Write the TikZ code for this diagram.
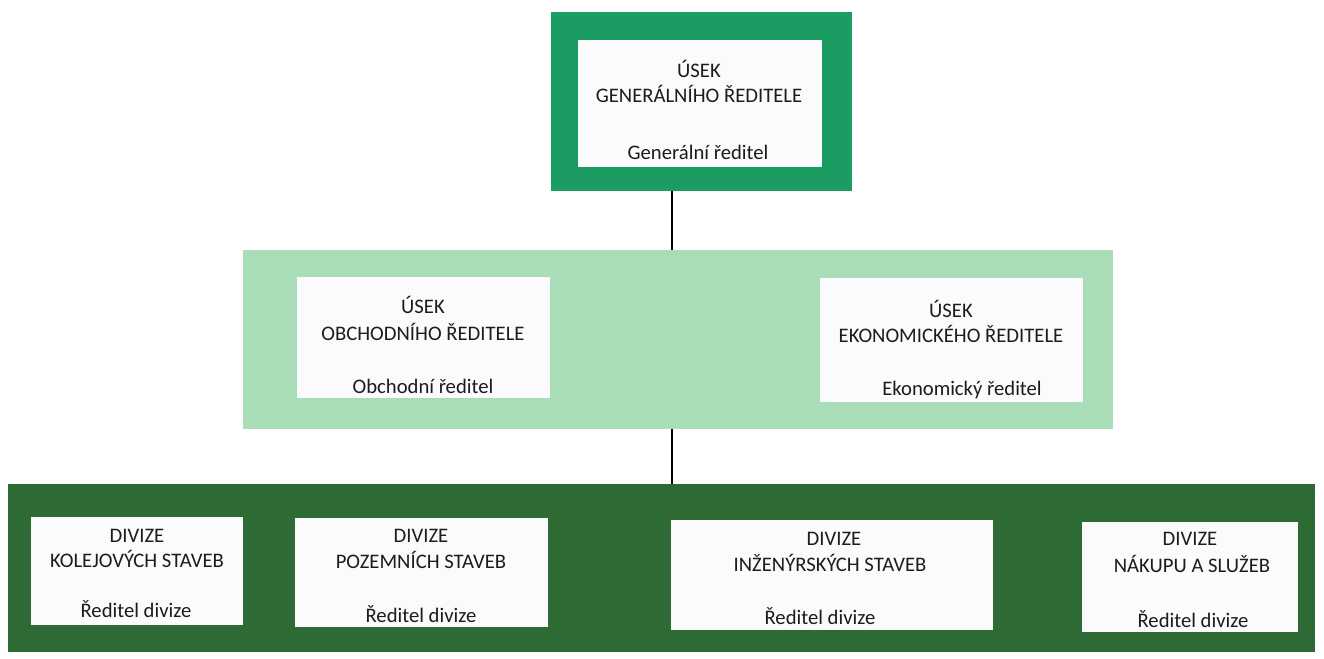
\documentclass[tikz,border=0pt]{standalone}
\usepackage{fontspec}
\setmainfont{Carlito}
\definecolor{topgreen}{RGB}{26,156,98}
\definecolor{midgreen}{RGB}{169,221,183}
\definecolor{botgreen}{RGB}{46,106,52}
\definecolor{boxwhite}{RGB}{251,251,253}
\definecolor{txtcol}{RGB}{28,28,30}
\def\u{0.75pt}
\tikzset{
  band/.style={draw=none, inner sep=0pt, outer sep=0pt},
  wbox/.style={draw=none, fill=boxwhite, inner sep=0pt, outer sep=0pt},
  txt/.style={anchor=base, inner sep=0pt, text=txtcol, font=\fontsize{15.5}{18}\selectfont},
  conn/.style={draw=black, line width=1.3pt}
}
\begin{document}
\begin{tikzpicture}[x=0.75pt, y=-0.75pt]
\useasboundingbox (0,0) rectangle (1324,659);
\fill[white] (0,0) rectangle (1324,659);
% top
\node[band, fill=topgreen, minimum width=301*\u, minimum height=179*\u] (topband) at (701.5,101.5) {};
\node[wbox, minimum width=244*\u, minimum height=127*\u] (gen) at (700,103.5) {};
\node[txt] (gen1) at (699,78) {ÚSEK};
\node[txt] (gen2) at (699,103) {GENERÁLNÍHO ŘEDITELE};
\node[txt] (gen3) at (698,160) {Generální ředitel};
% middle
\node[band, fill=midgreen, minimum width=870*\u, minimum height=179*\u] (midband) at (678,339.5) {};
\node[wbox, minimum width=253*\u, minimum height=121*\u] (obch) at (423.5,337.5) {};
\node[txt] (obch1) at (423,314) {ÚSEK};
\node[txt] (obch2) at (423,340) {OBCHODNÍHO ŘEDITELE};
\node[txt] (obch3) at (423,393) {Obchodní ředitel};
\node[wbox, minimum width=263*\u, minimum height=124*\u] (ekon) at (951.5,340) {};
\node[txt] (ekon1) at (951,317) {ÚSEK};
\node[txt] (ekon2) at (951,342) {EKONOMICKÉHO ŘEDITELE};
\node[txt] (ekon3) at (962,395) {Ekonomický ředitel};
% bottom
\node[band, fill=botgreen, minimum width=1307*\u, minimum height=168*\u] (botband) at (661.5,568) {};
\node[wbox, minimum width=212*\u, minimum height=108*\u] (kol) at (137,571) {};
\node[txt] (kol1) at (137,542) {DIVIZE};
\node[txt] (kol2) at (137,567) {KOLEJOVÝCH STAVEB};
\node[txt] (kol3) at (136,617) {Ředitel divize};
\node[wbox, minimum width=253*\u, minimum height=109*\u] (poz) at (421.5,572.5) {};
\node[txt] (poz1) at (421,542) {DIVIZE};
\node[txt] (poz2) at (421,568) {POZEMNÍCH STAVEB};
\node[txt] (poz3) at (421,622) {Ředitel divize};
\node[wbox, minimum width=322*\u, minimum height=110*\u] (inz) at (832,575) {};
\node[txt] (inz1) at (834,545) {DIVIZE};
\node[txt] (inz2) at (830,571) {INŽENÝRSKÝCH STAVEB};
\node[txt] (inz3) at (820,624) {Ředitel divize};
\node[wbox, minimum width=216*\u, minimum height=110*\u] (nak) at (1190,577) {};
\node[txt] (nak1) at (1190,545) {DIVIZE};
\node[txt] (nak2) at (1192,572) {NÁKUPU A SLUŽEB};
\node[txt] (nak3) at (1193,627) {Ředitel divize};
% connectors
\coordinate (lx) at (672,0);
\draw[conn] (topband.south -| lx) -- (midband.north -| lx);
\draw[conn] (midband.south -| lx) -- (botband.north -| lx);
\end{tikzpicture}
\end{document}
